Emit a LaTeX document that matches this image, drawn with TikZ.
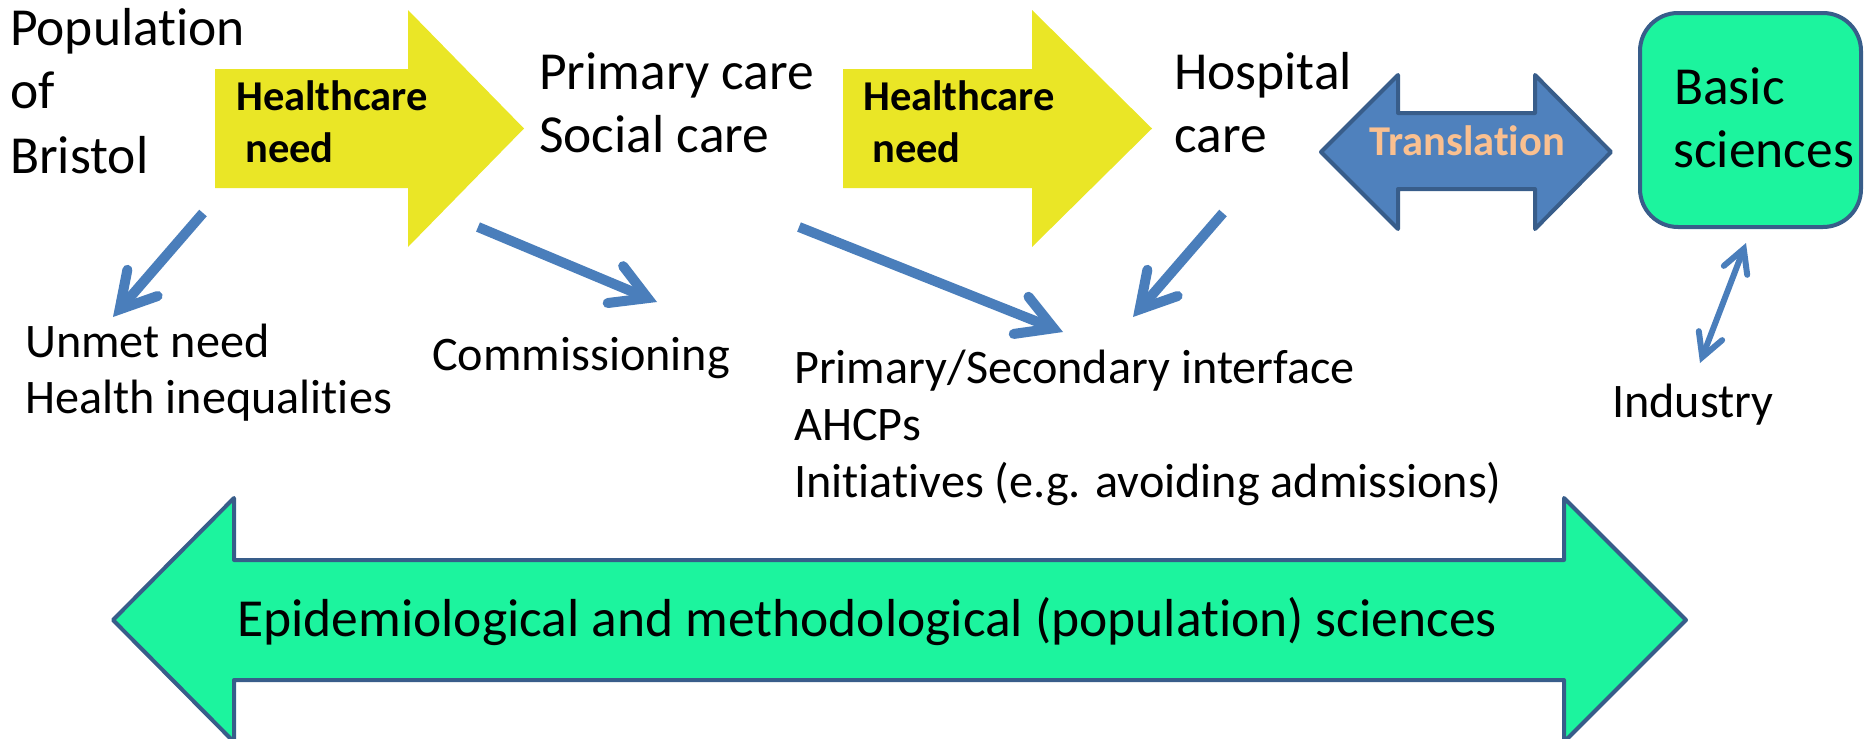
\documentclass[tikz,border=0pt]{standalone}
\usepackage{fontspec}
\setmainfont{Carlito}[Ligatures={NoCommon,NoContextual}]
\usetikzlibrary{arrows.meta}
\definecolor{hcyellow}{RGB}{234,230,38}
\definecolor{arrblue}{RGB}{74,126,187}
\definecolor{trfill}{RGB}{79,129,189}
\definecolor{edgeblue}{RGB}{56,93,138}
\definecolor{scigreen}{RGB}{28,244,158}
\definecolor{peach}{RGB}{250,192,144}
\tikzset{
  big/.style={anchor=base west, inner sep=0pt, font=\fontsize{53.5}{63}\selectfont},
  small/.style={anchor=base west, inner sep=0pt, font=\fontsize{48.2}{57}\selectfont},
  boldlab/.style={anchor=base west, inner sep=0pt, font=\fontsize{42.5}{51}\selectfont\bfseries},
  linkarrow/.style={draw=arrblue, line width=10pt,
    -{Straight Barb[length=35pt,width=40pt,line cap=round,line join=miter]}},
  duplex/.style={draw=arrblue, line width=6pt,
    {Straight Barb[length=23pt,width=25pt,line cap=round,line join=miter]}-{Straight Barb[length=23pt,width=25pt,line cap=round,line join=miter]}},
  needarrow/.style={fill=hcyellow},
  bluebig/.style={fill=trfill, draw=edgeblue, line width=4pt, line join=round},
  greenbig/.style={fill=scigreen, draw=edgeblue, line width=4pt, line join=round},
}
\begin{document}
\begin{tikzpicture}[x=1pt,y=-1pt]
\useasboundingbox (0,0) rectangle (1864,739);
% yellow arrows
\fill[needarrow] (215,69) -- (408,69) -- (408,10) -- (524,128.5) -- (408,247) -- (408,188) -- (215,188) -- cycle;
\fill[needarrow] (843,69) -- (1032,69) -- (1032,10) -- (1152,128.5) -- (1032,247) -- (1032,188) -- (843,188) -- cycle;
% translation arrow
\draw[bluebig] (1321,152) -- (1398,75) -- (1398,113) -- (1535,113) -- (1535,75) -- (1611,152) -- (1535,229) -- (1535,189) -- (1398,189) -- (1398,229) -- cycle;
% bottom arrow
\draw[greenbig] (113,620) -- (234,498) -- (234,560) -- (1564,560) -- (1564,498) -- (1686,620) -- (1564,742) -- (1564,680) -- (234,680) -- (234,742) -- cycle;
% basic sciences box
\node[draw=edgeblue, fill=scigreen, line width=4pt, rounded corners=38pt,
      minimum width=221pt, minimum height=214pt, inner sep=0pt] (basicbox) at (1750.5,120) {};

% texts
\node[big] (pop1) at (10,45) {Population};
\node[big] (pop2) at (10,108) {of};
\node[big] (pop3) at (10,173) {Bristol};
\node[boldlab] (hn1a) at (236,110) {Healthcare};
\node[boldlab] (hn1b) at (245,162) {need};
\node[big] (prim1) at (539,89) {Primary care};
\node[big] (prim2) at (539,152) {Social care};
\node[boldlab] (hn2a) at (863,110) {Healthcare};
\node[boldlab] (hn2b) at (872,162) {need};
\node[big] (hosp1) at (1174,89) {Hospital};
\node[big] (hosp2) at (1174,152) {care};
\node[boldlab, text=peach] (trans) at (1369,155) {Translation};
\node[big] (basic1) at (1674,104) {Basic};
\node[big] (basic2) at (1673,167) {sciences};
\node[small] (unmet1) at (25,357) {Unmet need};
\node[small] (unmet2) at (25,413) {Health inequalities};
\node[small] (comm) at (432,370) {Commissioning};
\node[small] (iface1) at (794,383) {Primary/Secondary interface};
\node[small] (iface2) at (794,440) {AHCPs};
\node[small] (iface3) at (794,497) {Initiatives (e.g. avoiding admissions)};
\node[small] (industry) at (1612,417) {Industry};
\node[big] (epi) at (237,636) {Epidemiological and methodological (population) sciences};

% connector end points
\coordinate (a1s) at (203,213);
\coordinate (a1e) at (113,317);
\coordinate (a2s) at (478,227);
\coordinate (a2e) at (657,302);
\coordinate (a3s) at (799,227);
\coordinate (a3e) at (1063,332);
\coordinate (a4s) at (1223,213);
\coordinate (a4e) at (1133,317);
\coordinate (a5s) at (1746,243);
\coordinate (a5e) at (1700,363);

\draw[linkarrow] (a1s) -- (a1e);
\draw[linkarrow] (a2s) -- (a2e);
\draw[linkarrow] (a3s) -- (a3e);
\draw[linkarrow] (a4s) -- (a4e);
\draw[duplex] (a5s) -- (a5e);
\end{tikzpicture}
\end{document}
